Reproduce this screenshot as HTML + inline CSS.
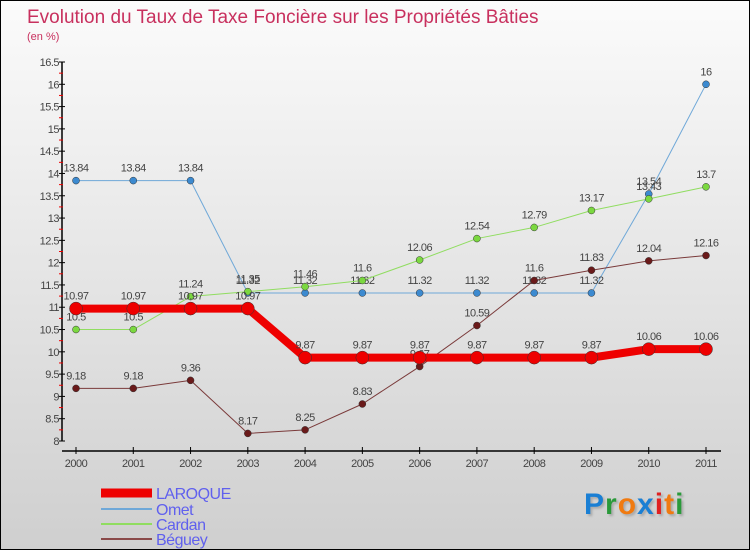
<!DOCTYPE html>
<html><head><meta charset="utf-8"><style>
html,body{margin:0;padding:0}
body{width:750px;height:550px;overflow:hidden;font-family:"Liberation Sans",sans-serif}
#wrap{position:relative;width:748px;height:548px;border:1px solid #000;background:linear-gradient(#fbfbfb,#f0f0f0 25%,#cfcfcf)}
svg{position:absolute;left:0;top:0}
</style></head><body>
<div id="wrap">
<svg id="c" width="750" height="550">
<text x="26" y="22" font-size="19" fill="#c8305e">Evolution du Taux de Taxe Foncière sur les Propriétés Bâties</text>
<text x="26" y="39" font-size="11" fill="#c8305e">(en %)</text>
<text x="103" y="523" font-size="0"></text>
</svg>
<div style="position:absolute;left:583px;top:487px;font:bold 30px 'Liberation Sans',sans-serif;letter-spacing:1px;text-shadow:2px 2px 2px #aaa"><span style="color:#1a7fd4">P</span><span style="color:#2a9a3a">r</span><span style="color:#f07a10">o</span><span style="color:#1a7fd4">x</span><span style="color:#e02020">i</span><span style="color:#f07a10">t</span><span style="color:#2a9a3a">i</span></div>
</div>
<script>
const years=["2000","2001","2002","2003","2004","2005","2006","2007","2008","2009","2010","2011"];
const laroque=[10.97,10.97,10.97,10.97,9.87,9.87,9.87,9.87,9.87,9.87,10.06,10.06];
const omet=[13.84,13.84,13.84,11.32,11.32,11.32,11.32,11.32,11.32,11.32,13.54,16];
const cardan=[10.5,10.5,11.24,11.35,11.46,11.6,12.06,12.54,12.79,13.17,13.43,13.7];
const beguey=[9.18,9.18,9.36,8.17,8.25,8.83,9.67,10.59,11.6,11.83,12.04,12.16];
const yTicks=["8","8.5","9","9.5","10","10.5","11","11.5","12","12.5","13","13.5","14","14.5","15","15.5","16","16.5"];
const NS="http://www.w3.org/2000/svg";
const svg=document.getElementById('c');
const X=i=>75+i*(705-75)/(years.length-1);
const Y=v=>440-(v-8)*(440-61)/8.5;
function mk(t,a,p){const e=document.createElementNS(NS,t);for(const k in a)e.setAttribute(k,a[k]);(p||svg).appendChild(e);return e;}
// axes
let ax=mk('g',{});


mk('line',{x1:61,y1:Y(16.5),x2:61,y2:440,stroke:'#000','stroke-width':1.5},ax);
yTicks.forEach(t=>{const v=parseFloat(t),y=Y(v);
 mk('line',{x1:58,y1:y,x2:64,y2:y,stroke:'#000'},ax);
 if(v<16.5)mk('line',{x1:58,y1:Y(v+0.25),x2:62,y2:Y(v+0.25),stroke:'#e00'},ax);
 const tx=mk('text',{x:58,y:y+4,'font-size':11,fill:'#444','text-anchor':'end','letter-spacing':'-0.5'},ax);tx.textContent=t;
 
 });
let xa=mk('g',{});


mk('line',{x1:61,y1:450,x2:720,y2:450,stroke:'#000','stroke-width':1.5},xa);
years.forEach((yr,i)=>{mk('line',{x1:X(i),y1:446,x2:X(i),y2:453,stroke:'#000'},xa);
 const t=mk('text',{x:X(i),y:466,'font-size':11,fill:'#444','text-anchor':'middle','letter-spacing':'-0.5'},xa);t.textContent=yr;
 
 });
function series(name,data,color,w,r,dot){
 const g=mk('g',{});
 
 
 mk('polyline',{points:data.map((v,i)=>X(i)+','+Y(v)).join(' '),fill:'none',stroke:color,'stroke-width':w,'stroke-linejoin':'round'},g);
 data.forEach((v,i)=>{const c=mk('circle',{cx:X(i),cy:Y(v),r:r,fill:dot,stroke:'#333','stroke-width':0.5},g);
  
  
  const t=mk('text',{x:X(i),y:Y(v)-9,'font-size':11,fill:'#444','text-anchor':'middle','letter-spacing':'-0.5'},g);t.textContent=String(v);
  
  });
}
series('omet',omet,'#6fa8d8',1,3.5,'#3c8ad0');
series('cardan',cardan,'#90dd60',1,3.5,'#7bd840');
series('beguey',beguey,'#7a3a3a',1,3.5,'#6a1a1a');
series('laroque',laroque,'#ee0000',8,6.5,'#ee0000');
const lg=[["LAROQUE","#ee0000",9,492],["Omet","#6fa8d8",2,508],["Cardan","#90dd60",2,523],["Béguey","#8a4a4a",2,538]];
lg.forEach(l=>{const g=mk('g',{});
 
 
 mk('line',{x1:100,y1:l[3],x2:151,y2:l[3],stroke:l[1],'stroke-width':l[2]},g);
 const t=mk('text',{x:155,y:l[3]+6,'font-size':16,fill:'#6060ee','letter-spacing':'-0.5'},g);t.textContent=l[0];});
</script>
</body></html>
